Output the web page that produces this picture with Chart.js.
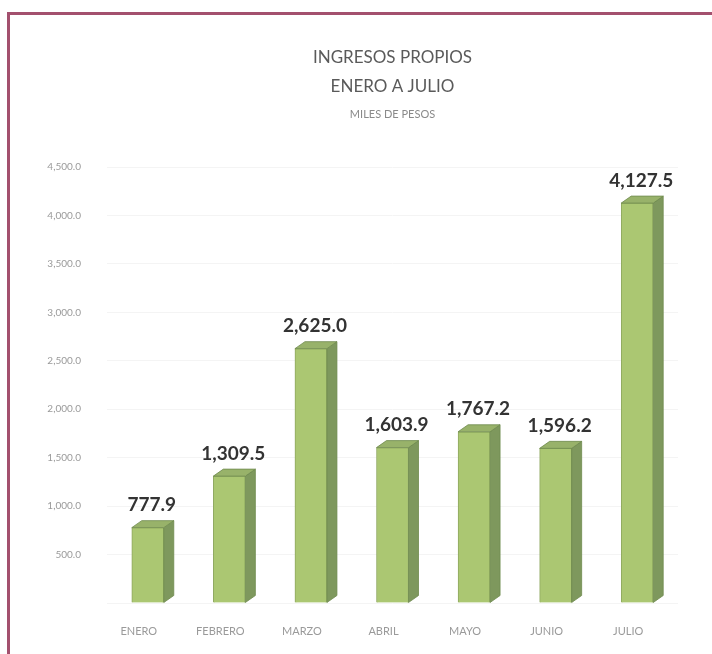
<!DOCTYPE html>
<html>
<head>
<meta charset="utf-8">
<script src="https://cdn.jsdelivr.net/npm/chart.js@4.4.1/dist/chart.umd.min.js"></script>
<style>
  html, body { margin: 0; padding: 0; background: #fff; overflow: hidden; }
  .frame {
    position: absolute; left: 7px; top: 12px; width: 740px; height: 700px;
    border: 3px solid #a3506e; box-sizing: border-box;
  }
  .chart-container { position: absolute; left: 0; top: 0; width: 712px; height: 654px; }
</style>
</head>
<body>
<div class="frame"></div>
<div class="chart-container"><canvas id="myChart" width="712" height="654"></canvas></div>
<script>
// ----------------------------------------------------------
// data
const months = ["ENERO", "FEBRERO", "MARZO", "ABRIL", "MAYO", "JUNIO", "JULIO"];
const ingresos = [777.9, 1309.5, 2625.0, 1603.9, 1767.2, 1596.2, 4127.5];
const titleLines = ["INGRESOS PROPIOS", "ENERO A JULIO"];
const subtitleText = "MILES DE PESOS";

// ----------------------------------------------------------
const fmt = (v) =>
  v.toLocaleString("en-US", { minimumFractionDigits: 1, maximumFractionDigits: 1 });

// 3d look: side + top face drawn from each bar element
const depthX = 10;
const depthY = 7;
const bar3d = {
  id: "bar3d",
  afterDatasetsDraw(chart) {
    const ctx = chart.ctx;
    const meta = chart.getDatasetMeta(0);
    ctx.save();
    meta.data.forEach((bar, i) => {
      const half = bar.width / 2;
      const l = bar.x - half;
      const r = bar.x + half;
      // side face
      ctx.beginPath();
      ctx.moveTo(r, bar.y);
      ctx.lineTo(r + depthX, bar.y - depthY);
      ctx.lineTo(r + depthX, bar.base - depthY);
      ctx.lineTo(r, bar.base);
      ctx.closePath();
      ctx.fillStyle = "#7e985d";
      ctx.fill();
      ctx.strokeStyle = "#6f8a4e";
      ctx.lineWidth = 0.8;
      ctx.stroke();
      // top face
      ctx.beginPath();
      ctx.moveTo(l, bar.y);
      ctx.lineTo(l + depthX, bar.y - depthY);
      ctx.lineTo(r + depthX, bar.y - depthY);
      ctx.lineTo(r, bar.y);
      ctx.closePath();
      ctx.fillStyle = "#98b26a";
      ctx.fill();
      ctx.stroke();
      // value label
      ctx.fillStyle = "#333333";
      ctx.font = "bold 19px Lato";
      ctx.textAlign = "center";
      ctx.textBaseline = "bottom";
      ctx.fillText(fmt(ingresos[i]), bar.x + 4, bar.y - depthY - 6);
    });
    ctx.restore();
  },
};

// ----------------------------------------------------------
const ctx = document.querySelector("#myChart").getContext("2d");
const theChart = new Chart(ctx, {
  type: "bar",
  data: {
    labels: months,
    datasets: [
      {
        label: "Ingresos",
        data: ingresos,
        backgroundColor: "#abc772",
        borderColor: "#8fa860",
        borderWidth: 1,
        barThickness: 32,
      },
    ],
  },
  options: {
    responsive: false,
    animation: false,
    layout: { padding: { left: 10, right: 34, top: 0, bottom: 11 } },
    plugins: {
      legend: { display: false },
      tooltip: { enabled: false },
      title: {
        display: true,
        fullSize: false,
        text: titleLines,
        color: "#5a5a5a",
        font: { family: "Lato", size: 17, weight: "normal", lineHeight: 1.7 },
        padding: { top: 43, bottom: 7 },
      },
      subtitle: {
        display: true,
        fullSize: false,
        text: subtitleText,
        color: "#8a8a8a",
        font: { family: "Lato", size: 11, lineHeight: 1.2 },
        padding: { top: 0, bottom: 46 },
      },
    },
    scales: {
      x: {
        grid: { display: false, drawTicks: false },
        border: { display: false },
        ticks: {
          color: "#9a9a9a",
          font: { family: "Lato", size: 11 },
          padding: 22,
          labelOffset: -9,
        },
        afterFit(scale) {
          scale.height = 40;
        },
      },
      y: {
        min: 0,
        max: 4500,
        grid: { color: "#f4f4f4", drawTicks: false },
        border: { display: false },
        ticks: {
          stepSize: 500,
          color: "#9a9a9a",
          font: { family: "Lato", size: 10 },
          padding: 26,
          callback: (v) => (v === 0 ? "" : fmt(v)),
        },
        afterFit(scale) {
          scale.width = 97;
        },
      },
    },
  },
  plugins: [bar3d],
});
</script>
</body>
</html>
